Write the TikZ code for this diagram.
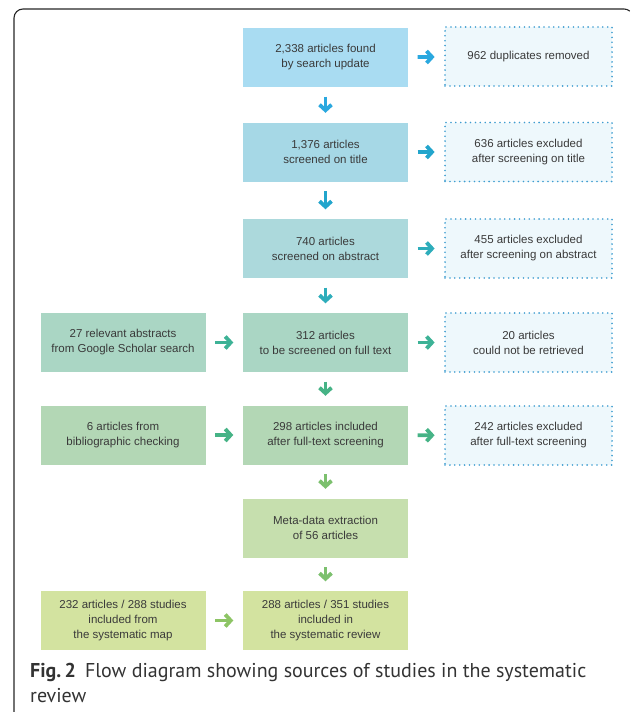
\documentclass[tikz,border=0pt]{standalone}
\usepackage{fontspec}
\setmainfont{Liberation Sans}
\newfontfamily\capfont{PT Sans}
\usepackage{tikz}
\usetikzlibrary{arrows.meta}

\definecolor{txtgray}{HTML}{3A3A3A}
\definecolor{rowA}{HTML}{A9DCF2}
\definecolor{rowB}{HTML}{A6D8E6}
\definecolor{rowC}{HTML}{ACD9DC}
\definecolor{rowD}{HTML}{AAD6C4}
\definecolor{rowE}{HTML}{B3D7B5}
\definecolor{rowF}{HTML}{C6DFAE}
\definecolor{rowG}{HTML}{D3E3A0}
\definecolor{dotblue}{HTML}{3F9DD0}
\definecolor{dotfill}{HTML}{EEF8FC}
\definecolor{arrA}{HTML}{2AA8DF}
\definecolor{arrB}{HTML}{22A5CC}
\definecolor{arrC}{HTML}{2EADBB}
\definecolor{arrD}{HTML}{3DB296}
\definecolor{arrE}{HTML}{46B386}
\definecolor{arrF}{HTML}{7CC06E}
\definecolor{arrG}{HTML}{8DC465}

\tikzset{
  stage/.style={minimum width=165pt, minimum height=59pt, inner sep=0pt,
    align=center, text=txtgray, font=\fontsize{11.5}{15}\selectfont},
  excl/.style={stage, minimum width=167pt, draw=dotblue, fill=dotfill,
    line width=1.8pt, line cap=round, dash pattern=on 0pt off 4.9pt},
  flow/.style={line width=3.8pt, -{Straight Barb[length=5.5pt,width=12pt]},
    shorten <=9.5pt, shorten >=9.5pt},
}

\begin{document}
\begin{tikzpicture}[x=1pt,y=-1pt]
	\useasboundingbox (0,0) rectangle (633,712);
	% frame
	\draw[line width=1.1pt, black!85] (14,712) -- (14,18) arc[start angle=180,end angle=270,radius=9] -- (624,9) arc[start angle=270,end angle=310,radius=9];
	% middle column
	\node[stage, fill=rowA] (found) at (325.5,57.5) {2,338 articles found\\by search update};
	\node[stage, fill=rowB] (title) at (325.5,152) {1,376 articles\\screened on title};
	\node[stage, fill=rowC] (abstract) at (325.5,248.5) {740 articles\\screened on abstract};
	\node[stage, fill=rowD] (fulltext) at (325.5,342.5) {312 articles\\to be screened on full text};
	\node[stage, fill=rowE] (included) at (325.5,435) {298 articles included\\after full-text screening};
	\node[stage, fill=rowF] (meta) at (325.5,528) {Meta-data extraction\\of 56 articles};
	\node[stage, fill=rowG] (review) at (325.5,620.5) {288 articles / 351 studies\\included in\\the systematic review};
	% left column
	\node[stage, fill=rowD] (scholar) at (123,342.5) {27 relevant abstracts\\from Google Scholar search};
	\node[stage, fill=rowE] (biblio) at (123,435) {6 articles from\\bibliographic checking};
	\node[stage, fill=rowG] (sysmap) at (123,620.5) {232 articles / 288 studies\\included from\\the systematic map};
	% right column
	\node[excl] (dupl) at (528.5,56.5) {962 duplicates removed};
	\node[excl] (exctitle) at (528.5,152) {636 articles excluded\\after screening on title};
	\node[excl] (excabstract) at (528.5,248.5) {455 articles excluded\\after screening on abstract};
	\node[excl] (noretr) at (528.5,342.5) {20 articles\\could not be retrieved};
	\node[excl] (excfull) at (528.5,435.5) {242 articles excluded\\after full-text screening};
	% arrows
	\draw[flow, arrA] (found) -- (dupl);
	\draw[flow, arrA] (found) -- (title);
	\draw[flow, arrB] (title) -- (exctitle);
	\draw[flow, arrB] (title) -- (abstract);
	\draw[flow, arrC] (abstract) -- (excabstract);
	\draw[flow, arrC] (abstract) -- (fulltext);
	\draw[flow, arrD] (scholar) -- (fulltext);
	\draw[flow, arrD] (fulltext) -- (noretr);
	\draw[flow, arrE] (fulltext) -- (included);
	\draw[flow, arrE] (biblio) -- (included);
	\draw[flow, arrE] (included) -- (excfull);
	\draw[flow, arrF] (included) -- (meta);
	\draw[flow, arrF] (meta) -- (review);
	\draw[flow, arrG] (sysmap) -- (review);
	% caption
	\node[anchor=base west, inner sep=0pt, text=black!80, font=\capfont\fontsize{20}{25}\selectfont] (caption) at (30,677)
		{\textbf{Fig.\,2}\hspace{9pt}Flow diagram showing sources of studies in the systematic};
	\node[anchor=base west, inner sep=0pt, text=black!80, font=\capfont\fontsize{20}{25}\selectfont] (captionb) at (30,702) {review};
\end{tikzpicture}
\end{document}
